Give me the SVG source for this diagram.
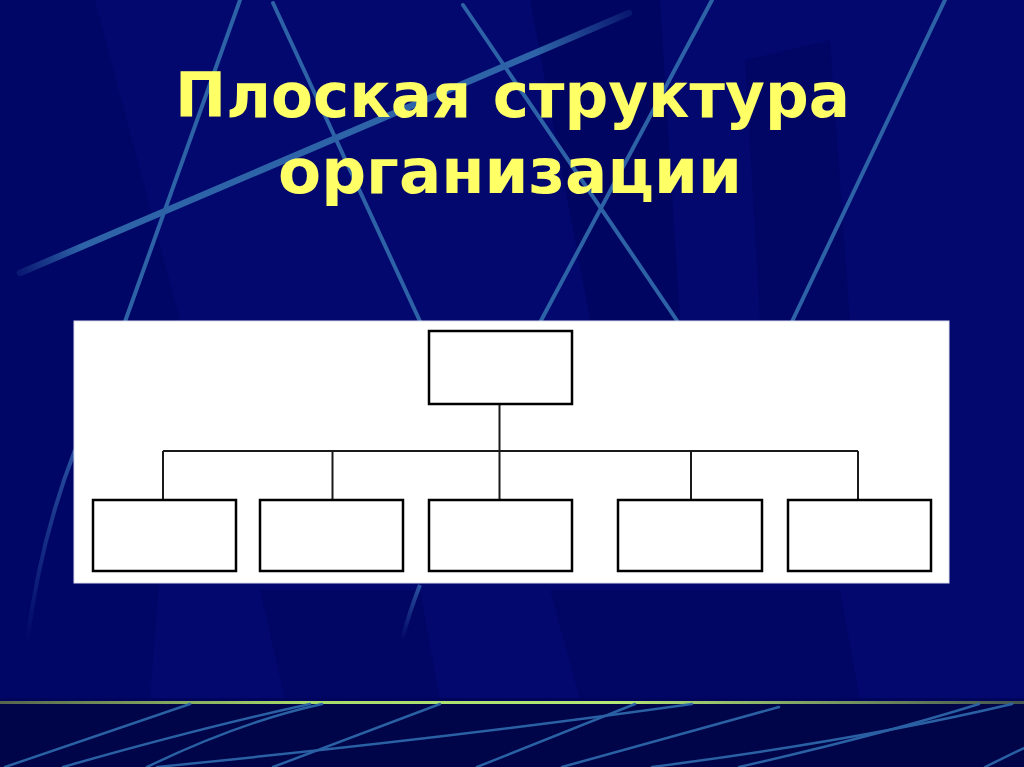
<svg xmlns="http://www.w3.org/2000/svg" width="1024" height="767" viewBox="0 0 1024 767">
  <defs>
    <linearGradient id="greenLine" x1="0" y1="0" x2="1" y2="0">
      <stop offset="0" stop-color="#55654f"/>
      <stop offset="0.3" stop-color="#a8dc6a"/>
      <stop offset="0.6" stop-color="#b4e876"/>
      <stop offset="1" stop-color="#44544f"/>
    </linearGradient>
    <linearGradient id="fadeDiag" x1="20" y1="273" x2="629" y2="13" gradientUnits="userSpaceOnUse">
      <stop offset="0" stop-color="#2f64a8" stop-opacity="0.2"/>
      <stop offset="0.1" stop-color="#3068ab" stop-opacity="0.95"/>
      <stop offset="0.85" stop-color="#3068ab" stop-opacity="0.95"/>
      <stop offset="1" stop-color="#2f64a8" stop-opacity="0.2"/>
    </linearGradient>
    <linearGradient id="streak" x1="0" y1="0" x2="0" y2="1">
      <stop offset="0" stop-color="#3a70b8" stop-opacity="0.7"/>
      <stop offset="1" stop-color="#3a70b8" stop-opacity="0"/>
    </linearGradient>
  </defs>
  <style>
    .bgline { fill: none; stroke: #2d62a6; stroke-width: 4; stroke-linecap: round; }
    .floor { fill: none; stroke: #2f6aae; stroke-width: 2.5; stroke-linecap: round; }
    .title { font-family: "DejaVu Sans", Verdana, sans-serif; font-weight: bold; font-size: 63px; fill: #ffff66; }
    .box { fill: #ffffff; stroke: #000000; stroke-width: 2.5; }
    .conn { fill: none; stroke: #1a1a1a; stroke-width: 2; }
  </style>

  <!-- background -->
  <rect x="0" y="0" width="1024" height="767" fill="#02086e"/>
  <polygon points="0,0 95,0 180,320 150,700 0,700" fill="#000560" opacity="0.6"/>
  <polygon points="530,0 660,0 680,320 590,320" fill="#000458" opacity="0.6"/>
  <polygon points="745,60 830,40 850,320 760,320" fill="#000458" opacity="0.4"/>
  <polygon points="260,590 420,590 440,700 285,700" fill="#00045a" opacity="0.5"/>
  <polygon points="550,590 840,590 860,700 580,700" fill="#00045a" opacity="0.5"/>

  <!-- background light lines -->
  <line x1="20" y1="273" x2="629" y2="13" stroke="url(#fadeDiag)" stroke-width="6.5" stroke-linecap="round"/>
  <line class="bgline" x1="240" y1="0" x2="122" y2="330"/>
  <line class="bgline" x1="273" y1="3" x2="424" y2="330"/>
  <line class="bgline" x1="463" y1="5" x2="680" y2="325"/>
  <line class="bgline" x1="712" y1="0" x2="536" y2="330"/>
  <line class="bgline" x1="945" y1="0" x2="788" y2="330"/>
  <path d="M75,450 Q40,540 27,643" fill="none" stroke="url(#streak)" stroke-width="4"/>
  <path d="M420,585 Q410,610 402,640" fill="none" stroke="url(#streak)" stroke-width="4"/>

  <!-- floor -->
  <rect x="0" y="703" width="1024" height="64" fill="#000448"/>
  <rect x="0" y="698" width="1024" height="4" fill="#00045a"/>
  <rect x="0" y="701" width="1024" height="3" fill="url(#greenLine)"/>
  <g opacity="0.9">
    <path class="floor" d="M5,767 L190,704"/>
    <path class="floor" d="M63,767 Q200,728 310,704"/>
    <path class="floor" d="M147,767 Q240,722 322,704"/>
    <path class="floor" d="M273,767 L440,704"/>
    <path class="floor" d="M157,767 Q450,738 692,704"/>
    <path class="floor" d="M477,767 L635,704"/>
    <path class="floor" d="M562,767 L779,707"/>
    <path class="floor" d="M652,767 Q860,740 1012,704"/>
    <path class="floor" d="M739,767 Q880,735 979,704"/>
    <path class="floor" d="M985,767 L1024,748"/>
  </g>

  <!-- title -->
  <g id="title">
    <text class="title" x="175" y="117" textLength="675" lengthAdjust="spacingAndGlyphs">Плоская структура</text>
    <text class="title" x="278" y="193" textLength="464" lengthAdjust="spacingAndGlyphs">организации</text>
  </g>

  <!-- panel -->
  <rect id="panel" x="74" y="321" width="875" height="262" fill="#ffffff" stroke="#dcdcec" stroke-width="1"/>

  <!-- connectors -->
  <g id="connectors">
    <line class="conn" x1="499.5" y1="404" x2="499.5" y2="500"/>
    <line class="conn" x1="163" y1="451" x2="858" y2="451"/>
    <line class="conn" x1="163" y1="451" x2="163" y2="500"/>
    <line class="conn" x1="332.5" y1="451" x2="332.5" y2="500"/>
    <line class="conn" x1="691" y1="451" x2="691" y2="500"/>
    <line class="conn" x1="858" y1="451" x2="858" y2="500"/>
  </g>

  <!-- nodes -->
  <g id="node-top"><rect class="box" x="429" y="331" width="143" height="73"/></g>
  <g id="node-1"><rect class="box" x="93" y="500" width="143" height="71"/></g>
  <g id="node-2"><rect class="box" x="260" y="500" width="143" height="71"/></g>
  <g id="node-3"><rect class="box" x="429" y="500" width="143" height="71"/></g>
  <g id="node-4"><rect class="box" x="618" y="500" width="144" height="71"/></g>
  <g id="node-5"><rect class="box" x="788" y="500" width="143" height="71"/></g>
</svg>
